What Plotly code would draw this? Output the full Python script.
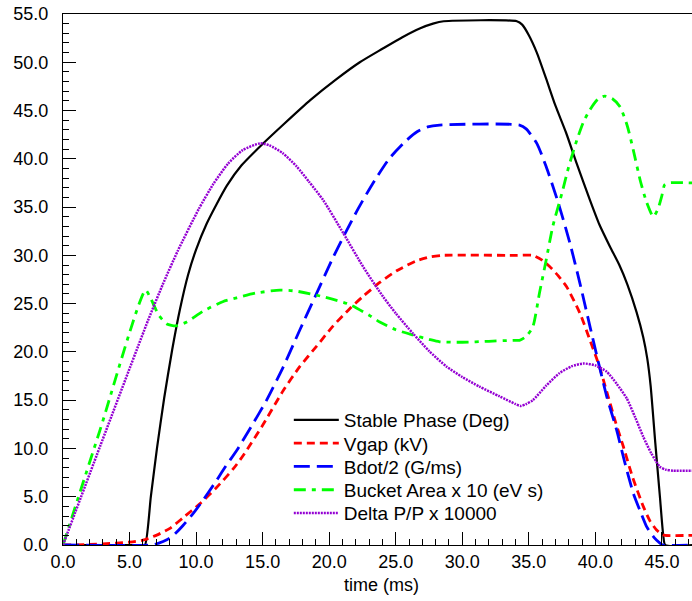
import plotly.graph_objects as go

# ---- data ----
phase_x = [0, 5.9, 6.16, 6.6, 7.06, 7.6, 8.2, 8.8, 9.4, 10.0, 10.8, 11.5, 12.3, 13.4, 14.9, 16.6, 18.6,
           20.5, 22.3, 24.0, 25.5, 26.8, 27.8, 28.6, 34.1, 34.5, 35.0, 35.6, 36.3, 37.0, 37.8, 38.6,
           39.6, 40.3, 41.1, 41.8, 42.4, 43.1, 43.6, 43.9, 44.15, 44.5, 44.85, 45.1, 45.25, 47.3]
phase_y = [0, 0, 0, 5.0, 10.0, 15.2, 20.2, 24.5, 28.0, 30.6, 33.3, 35.2, 37.2, 39.3, 41.4, 43.6, 46.1,
           48.2, 50.0, 51.4, 52.6, 53.5, 54.0, 54.25, 54.25, 53.9, 52.8, 51.0, 48.3, 45.5, 42.7, 39.5,
           35.7, 33.2, 30.9, 29.0, 27.0, 24.1, 21.5, 19.3, 16.5, 10.6, 5.0, 1.0, 0, 0]

vgap_x = [0, 2, 4, 5, 6.0, 7.0, 8.0, 9.0, 10.3, 11.5, 12.8, 13.55, 15.0, 16.55, 17.8, 19.06, 20.3,
          21.56, 22.5, 23.8, 25.07, 26.5, 27.6, 28.5, 34.0, 35.3, 36.0, 36.6, 37.2, 37.84, 38.84,
          39.6, 40.3, 40.85, 41.5, 42.1, 42.8, 43.6, 44.1, 44.6, 45.0, 45.23, 47.3]
vgap_y = [0, 0.05, 0.2, 0.3, 0.5, 1.0, 1.7, 2.8, 4.3, 5.9, 7.9, 9.3, 12.4, 16.0, 18.5, 20.6, 22.7,
          24.5, 25.7, 27.2, 28.4, 29.4, 29.85, 30.0, 30.0, 30.0, 29.5, 28.8, 27.9, 26.75, 24.0,
          21.2, 18.5, 15.9, 12.8, 10.2, 7.0, 4.0, 2.5, 1.55, 1.1, 1.0, 1.0]

bdot_x = [0, 6.66, 7.2, 7.8, 8.3, 9.0, 9.8, 10.5, 11.3, 12.2, 13.1, 14.2, 15.3, 16.5, 17.8, 18.8,
          20.3, 21.06, 22.2, 23.3, 24.5, 25.8, 26.6, 27.4, 28.3, 34.3, 34.8, 35.6, 36.3, 37.2, 38.1,
          38.84, 39.6, 40.3, 40.85, 41.6, 42.2, 42.85, 43.4, 43.85, 44.4, 44.85, 45.05, 47.3]
bdot_y = [0, 0, 0.2, 0.55, 1.0, 2.0, 3.3, 4.6, 6.2, 8.1, 9.9, 12.4, 15.0, 18.3, 22.3, 25.3,
          29.8, 31.9, 34.9, 37.5, 40.0, 41.9, 42.8, 43.3, 43.5, 43.5, 43.1, 41.6, 39.2, 35.5, 31.2,
          27.1, 22.6, 18.5, 15.4, 11.9, 8.6, 5.35, 3.4, 1.9, 0.8, 0.2, 0, 0]

bucket_x = [0, 2.78, 6.2, 6.6, 7.2, 7.8, 8.5, 9.3, 10.5, 12.0, 13.05, 14.5, 16.3, 17.5, 19.6, 21.56,
            23.0, 23.8, 25.0, 26.3, 27.5, 28.3, 30.0, 32.0, 33.8, 34.3, 34.8, 35.3, 35.8, 36.3, 36.8,
            37.5, 38.0, 38.6, 39.1, 39.6, 40.2, 40.7, 41.3, 41.85, 42.4, 42.85, 43.4, 43.85, 44.35,
            44.7, 45.0, 45.2, 45.5, 47.3]
bucket_y = [0, 11.9, 26.4, 25.5, 23.8, 22.9, 22.7, 23.1, 24.2, 25.2, 25.6, 26.1, 26.4, 26.3, 25.7, 24.9,
            23.8, 23.1, 22.3, 21.75, 21.3, 21.05, 21.0, 21.1, 21.2, 21.2, 21.6, 22.6, 26.1, 29.5, 33.0,
            36.5, 39.2, 41.9, 43.8, 45.1, 46.2, 46.5, 46.2, 45.4, 43.4, 40.9, 37.6, 35.5, 34.0,
            34.8, 36.2, 37.3, 37.5, 37.5]

dpp_x = [0, 2.78, 6.4, 7.5, 8.6, 10.2, 11.3, 12.4, 13.5, 14.8, 15.5, 16.5, 17.56, 18.5, 19.56, 21.06,
         22.56, 24.06, 25.0, 26.3, 27.5, 28.8, 30.0, 31.3, 32.8, 34.0, 34.4, 34.8, 35.3, 36.3, 37.3,
         38.2, 39.1, 40.0, 40.85, 41.6, 42.35, 43.0, 43.6, 44.2, 44.85, 45.3, 45.85, 47.3]
dpp_y = [0, 10.2, 23.3, 27.0, 30.4, 34.8, 37.4, 39.5, 40.9, 41.6, 41.4, 40.6, 39.2, 37.6, 35.7, 32.3,
         28.8, 25.7, 24.0, 21.9, 20.1, 18.5, 17.4, 16.4, 15.4, 14.6, 14.4, 14.6, 15.0, 16.5, 17.8,
         18.5, 18.8, 18.6, 17.95, 16.7, 15.2, 13.2, 11.2, 9.5, 8.1, 7.8, 7.7, 7.7]

series_names = ["Stable Phase (Deg)", "Vgap (kV)", "Bdot/2 (G/ms)",
                "Bucket Area x 10 (eV s)", "Delta P/P x 10000"]

y_ticks = [0, 5, 10, 15, 20, 25, 30, 35, 40, 45, 50, 55]
x_ticks = [0, 5, 10, 15, 20, 25, 30, 35, 40, 45]
x_title = "time (ms)"

FONT = "Liberation Sans, Arial, sans-serif"
SMOOTH = 0.6

fig = go.Figure()
styles = [
    dict(color="#000000", width=2.2),
    dict(color="#FF0000", width=2.8, dash="8px,5px"),
    dict(color="#0000FF", width=2.8, dash="16px,7px"),
    dict(color="#00FF00", width=2.8, dash="12px,6px,4px,6px"),
    dict(color="#9400D3", width=2.5, dash="2px,1px"),
]
data = [(phase_x, phase_y), (vgap_x, vgap_y), (bdot_x, bdot_y),
        (bucket_x, bucket_y), (dpp_x, dpp_y)]
legend_ids = ["legend", "legend2", "legend3", "legend4", "legend5"]
for (xs, ys), name, st, lg in zip(data, series_names, styles, legend_ids):
    fig.add_trace(go.Scatter(x=xs, y=ys, mode="lines", name=name,
                             line=dict(shape="spline", smoothing=SMOOTH, **st),
                             legend=lg))

# one single-item legend per series so the row spacing can follow the reference
row_centres = [420, 443.3, 466.6, 489.9, 513.2]
legend_common = dict(x=0.359, xanchor="left", yanchor="middle",
                     bgcolor="rgba(0,0,0,0)", borderwidth=0,
                     font=dict(family=FONT, size=19, color="black"),
                     itemwidth=45)
legend_layout = {}
for lg, yc in zip(legend_ids, row_centres):
    legend_layout[lg] = dict(y=(545 - yc) / 531, **legend_common)

fig.update_layout(
    width=692, height=601,
    margin=dict(l=63, r=0, t=14, b=56),
    paper_bgcolor="white", plot_bgcolor="white",
    font=dict(family=FONT, size=18, color="black"),
    showlegend=True,
    xaxis=dict(range=[0, 47.26], showgrid=False, zeroline=False,
               showline=True, linecolor="black", linewidth=1, mirror=True,
               ticks="inside", ticklen=13, tickcolor="black", tickwidth=1,
               tickvals=x_ticks, ticktext=[f"{v:.1f}" for v in x_ticks],
               minor=dict(dtick=1, ticks="inside", ticklen=6, tickcolor="black", showgrid=False),
               ticklabelstandoff=0),
    xaxis2=dict(range=[0, 47.26], overlaying="x", side="top", anchor="y", matches="x",
                showgrid=False, zeroline=False, showline=False,
                ticks="inside", ticklen=13, tickcolor="black", tickwidth=1,
                tickvals=x_ticks, showticklabels=False,
                minor=dict(dtick=1, ticks="inside", ticklen=6, tickcolor="black", showgrid=False)),
    yaxis=dict(range=[0, 55], showgrid=False, zeroline=False,
               showline=True, linecolor="black", linewidth=1, mirror=False,
               ticks="inside", ticklen=13, tickcolor="black", tickwidth=1,
               tickvals=y_ticks, ticktext=[f"{v:.1f}" for v in y_ticks],
               minor=dict(dtick=1, ticks="inside", ticklen=6, tickcolor="black", showgrid=False),
               ticklabelstandoff=10),
    annotations=[dict(text=x_title, xref="paper", yref="paper", x=0.506, y=-0.0753,
                      xanchor="center", yanchor="middle", showarrow=False,
                      font=dict(family=FONT, size=18, color="black"))],
    **legend_layout,
)

fig.write_html("out.html")
